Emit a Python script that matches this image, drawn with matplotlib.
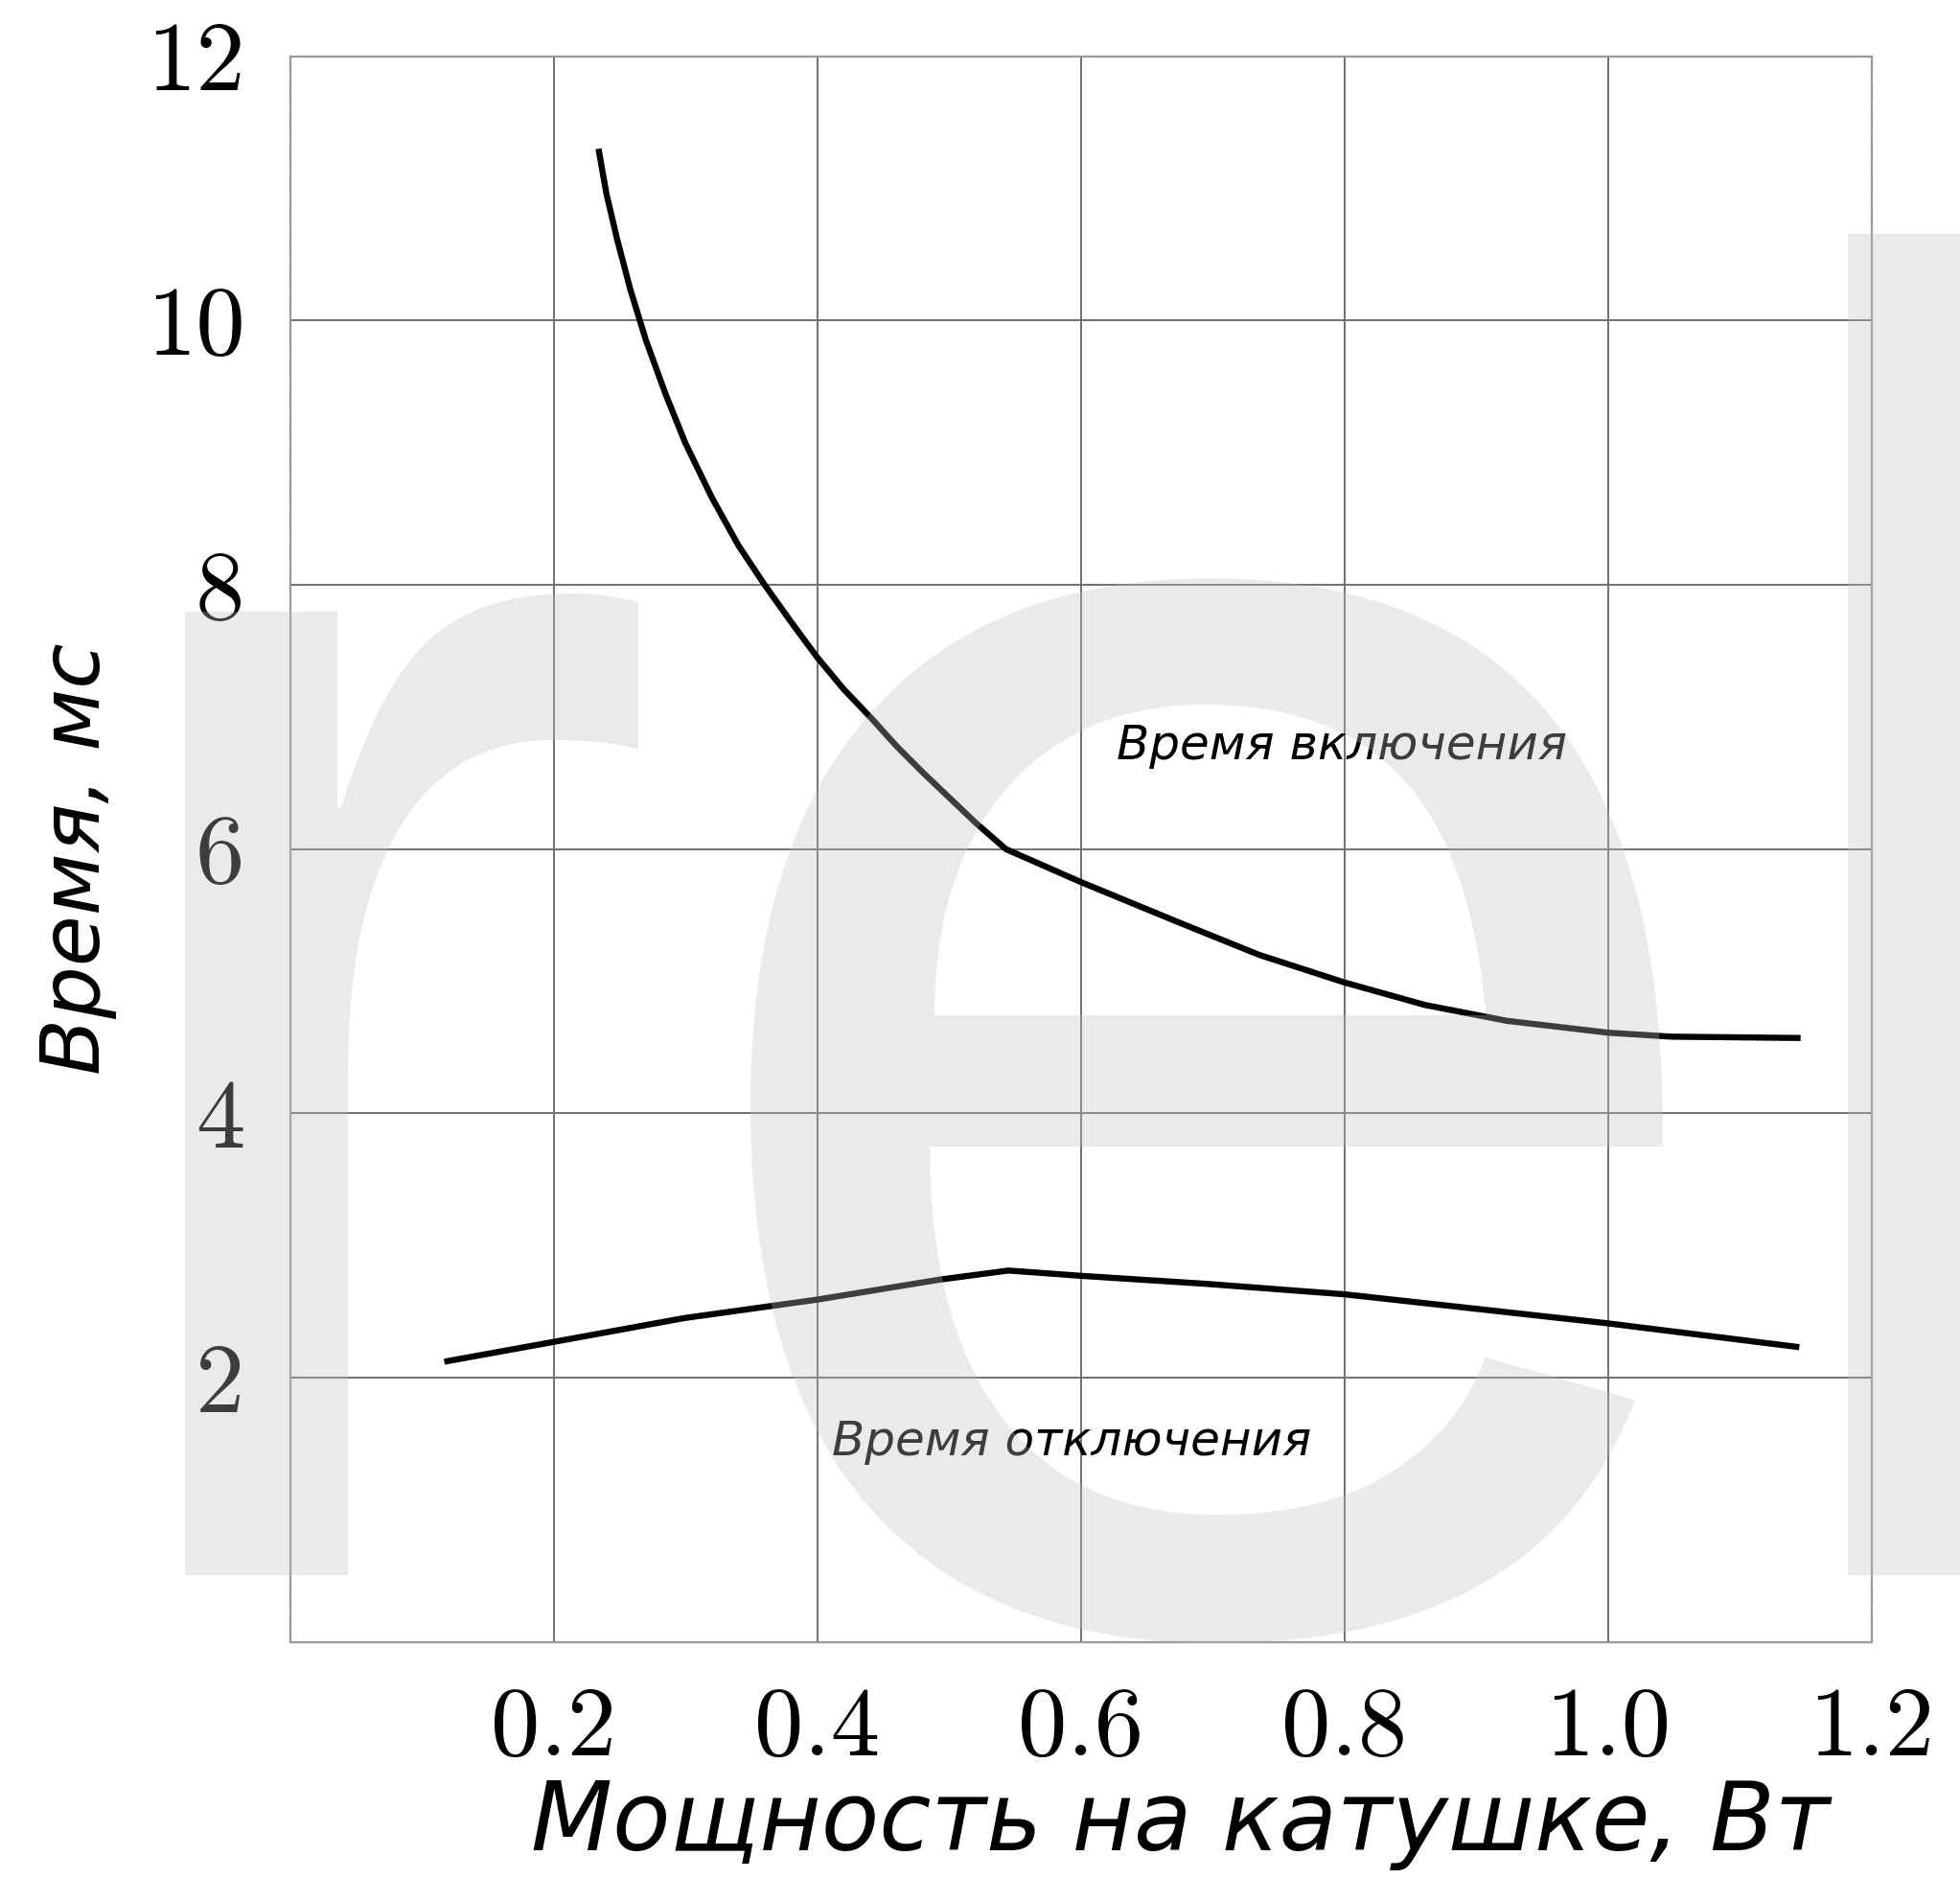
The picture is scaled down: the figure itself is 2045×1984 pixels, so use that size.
import numpy as np
import matplotlib
matplotlib.use("Agg")
import matplotlib.pyplot as plt

# время включения (upper curve)
power_on = [0.234, 0.240, 0.248, 0.258, 0.270, 0.285, 0.300, 0.320, 0.340, 0.360,
            0.380, 0.400, 0.420, 0.441, 0.460, 0.480, 0.500, 0.520, 0.543,
            0.600, 0.673, 0.735, 0.800, 0.861, 0.923, 1.000, 1.048, 1.146]
time_on = [11.30, 10.96, 10.62, 10.24, 9.85, 9.44, 9.07, 8.66, 8.30, 8.00,
           7.72, 7.45, 7.21, 6.99, 6.78, 6.58, 6.39, 6.20, 6.00,
           5.75, 5.45, 5.20, 4.99, 4.82, 4.70, 4.61, 4.58, 4.57]

# время отключения (lower curve)
power_off = [0.117, 0.200, 0.299, 0.400, 0.492, 0.545, 0.600, 0.694, 0.800, 0.882, 1.000, 1.145]
time_off = [2.12, 2.27, 2.45, 2.59, 2.74, 2.81, 2.77, 2.71, 2.63, 2.54, 2.41, 2.23]

xticks = [0.2, 0.4, 0.6, 0.8, 1.0, 1.2]
xtick_labels = ["0.2", "0.4", "0.6", "0.8", "1.0", "1.2"]
yticks = [2, 4, 6, 8, 10, 12]
ytick_labels = ["2", "4", "6", "8", "10", "12"]

fig = plt.figure(figsize=(20.45, 19.84), dpi=100)
ax = fig.add_axes([0.148, 0.1368, 0.807, 0.8336])

ax.plot(power_on, time_on, color="black", lw=4.6, solid_joinstyle="round",
        solid_capstyle="butt", zorder=3)
ax.plot(power_off, time_off, color="black", lw=4.6, solid_joinstyle="round",
        solid_capstyle="butt", zorder=3)

ax.set_xlim(0, 1.2)
ax.set_ylim(0, 12)
ax.set_xticks(xticks)
ax.set_xticklabels(xtick_labels, fontfamily="cmr10", fontsize=74)
ax.set_yticks(yticks)
ax.set_yticklabels(ytick_labels, fontfamily="cmr10", fontsize=74)
ax.tick_params(axis="both", length=0)
ax.tick_params(axis="x", pad=34)
ax.tick_params(axis="y", pad=34)

ax.grid(True, color="#707070", lw=1.4, zorder=1)
for s in ax.spines.values():
    s.set_color("#9a9a9a")
    s.set_linewidth(1.6)
    s.set_linestyle((0, (1, 0.6)))

ax.text(0.798, 6.78, "Время включения", fontsize=36, style="italic",
        ha="center", va="center", family="DejaVu Sans")
ax.text(0.593, 1.51, "Время отключения", fontsize=36, style="italic",
        ha="center", va="center", family="DejaVu Sans")

ax.set_xlabel("Мощность на катушке, Вт", fontsize=71, style="italic", family="DejaVu Sans")
ax.xaxis.set_label_coords(0.563, -0.115)
ax.xaxis.label.set_va("center")
ax.set_ylabel("Время, мс", fontsize=62, style="italic", family="DejaVu Sans")
ax.yaxis.set_label_coords(-0.1346, 0.494)
ax.yaxis.label.set_va("center")

# watermark "rel" overlaid on the chart
wm = dict(family="Liberation Sans", color="#bfbfbf", alpha=0.32, zorder=10)
fig.text(0.0313, 0.172, "r", fontsize=1370, ha="left", va="baseline", **wm)
fig.text(0.341, 0.146, "e", fontsize=1460, ha="left", va="baseline", **wm)
fig.text(0.879, 0.172, "l", fontsize=1390, ha="left", va="baseline", **wm)

fig.savefig("out.png", dpi=100, facecolor="white")
